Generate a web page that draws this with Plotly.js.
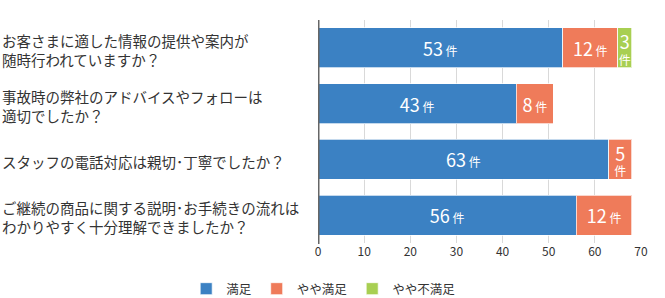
<!DOCTYPE html>
<html><head><meta charset="utf-8">
<script src="https://cdn.plot.ly/plotly-3.0.1.min.js"></script>
<style>body{margin:0;padding:0;background:#fff}#chart{width:665px;height:298px}</style>
</head><body><div id="chart"></div>
<script>
var categories = [
  "お客さまに適した情報の提供や案内が<br>随時行われていますか？",
  "事故時の弊社のアドバイスやフォローは<br>適切でしたか？",
  "スタッフの電話対応は親切･丁寧でしたか？",
  "ご継続の商品に関する説明･お手続きの流れは<br>わかりやすく十分理解できましたか？"
];
var seriesNames = ["満足", "やや満足", "やや不満足"];
var manzoku = [53, 43, 63, 56];
var yayaManzoku = [12, 8, 5, 12];
var yayaFumanzoku = [3, null, null, null];
var xTicks = [0, 10, 20, 30, 40, 50, 60, 70];
var colors = ["#3b81c3", "#ef7b5a", "#a8cf52"];
var unit = "件";

function labels(vals) {
  return vals.map(function (v) {
    if (v === null) return "";
    if (v <= 5) return "<span style='font-size:18px'>" + v + "</span><br><span style='font-size:12px'>" + unit + "</span>";
    return "<span style='font-size:18px'>" + v + "</span><span style='font-size:12px'> " + unit + "</span>";
  });
}

var all = [manzoku, yayaManzoku, yayaFumanzoku];
var traces = all.map(function (vals, i) {
  return {
    type: "bar", orientation: "h",
    x: vals, y: categories, name: seriesNames[i],
    marker: {color: colors[i], line: {color: "rgba(255,255,255,0.7)", width: 1}},
    width: 0.72,
    text: labels(vals), textposition: "inside", insidetextanchor: "middle",
    textangle: 0, constraintext: "none",
    textfont: {color: "#ffffff", family: "Noto Sans CJK JP, Noto Sans, sans-serif"},
    hoverinfo: "x+name"
  };
});

var annotations = categories.map(function (c) {
  return {
    text: c, xref: "paper", yref: "y", x: -0.985, y: c, yshift: -2,
    xanchor: "left", yanchor: "middle", align: "left", showarrow: false,
    font: {size: 14.5, color: "#333333", family: "Noto Sans CJK JP, sans-serif"}
  };
});

var layout = {
  width: 665, height: 298,
  margin: {l: 318, r: 24, t: 20, b: 55},
  barmode: "stack", bargap: 0.28,
  paper_bgcolor: "#ffffff", plot_bgcolor: "#ffffff",
  font: {family: "Noto Sans CJK JP, Noto Sans, sans-serif", color: "#333333"},
  xaxis: {
    range: [0, 70], tickvals: xTicks, ticktext: xTicks.map(String),
    showgrid: true, gridcolor: "#d9d9d9", gridwidth: 1,
    zeroline: false, showline: false, ticks: "",
    tickfont: {size: 12, color: "#333333"}, fixedrange: true
  },
  yaxis: {
    autorange: "reversed", showticklabels: false, showgrid: false,
    zeroline: false, showline: false, ticks: "", fixedrange: true
  },
  shapes: [{
    type: "line", xref: "x", yref: "paper", x0: 0, x1: 0, y0: -0.005, y1: 1,
    line: {color: "#666666", width: 3}
  }],
  annotations: annotations,
  legend: {
    orientation: "h", xref: "container", yref: "container",
    x: 0.28, xanchor: "left", y: 0.03, yanchor: "middle",
    itemwidth: 30,
    font: {size: 12.5, color: "#333333"}, traceorder: "normal"
  },
  showlegend: true
};

Plotly.newPlot("chart", traces, layout, {displayModeBar: false, staticPlot: true});
</script></body></html>
